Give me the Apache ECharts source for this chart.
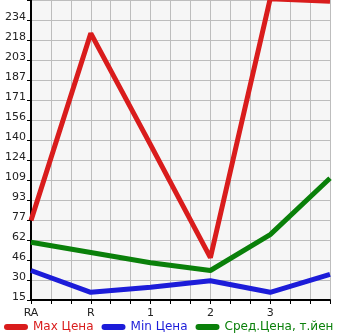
<!DOCTYPE html>
<html>
<head>
<meta charset="utf-8">
<script src="https://cdn.jsdelivr.net/npm/echarts@6/dist/echarts.min.js"></script>
<style>html,body{margin:0;padding:0;background:#fff}#c{width:345px;height:335px}</style>
</head>
<body>
<div id="c"></div>
<script>
const categories = ['RA', 'R', '1', '2', '3', ''];
const yTickLabels = ['15', '30', '46', '62', '77', '93', '109', '124', '140', '156', '171', '187', '203', '218', '234'];
const maxPrice = [77, 223, 136, 48, 250, 248];
const minPrice = [38, 21, 25, 30, 21, 35];
const avgPrice = [60, 52, 44, 38, 66, 110];
const seriesNames = ['Max Цена', 'Min Цена', 'Сред.Цена, т.йен'];
const colors = ['#d91c1c', '#1c1cd9', '#0a800a'];

const font = 'DejaVu Sans';
const chart = echarts.init(document.getElementById('c'), null, {renderer: 'canvas'});
const capsule = 'path://M3,0 L21,0 A3,3 0 0 1 21,6 L3,6 A3,3 0 0 1 3,0 Z';
chart.setOption({
  animation: false,
  grid: {left: 31, right: 15, top: 0, bottom: 35, show: true, backgroundColor: '#f6f6f6', borderWidth: 0},
  legend: {
    left: -1, bottom: -3, itemWidth: 24, itemHeight: 6, itemGap: 8,
    icon: capsule,
    textStyle: {fontFamily: font, fontSize: 12},
    data: seriesNames.map((n, i) => ({name: n, textStyle: {color: colors[i]}}))
  },
  xAxis: [
    {
      type: 'category', data: categories, boundaryGap: false,
      axisLine: {lineStyle: {color: '#000', width: 2}},
      axisTick: {show: false},
      splitLine: {show: false},
      axisLabel: {fontFamily: font, fontSize: 11, color: '#222', margin: 8, interval: 0}
    },
    {
      type: 'value', min: 0, max: 15, interval: 1, position: 'bottom',
      axisLine: {show: false},
      axisTick: {show: true, length: 4, lineStyle: {color: '#000', width: 1}},
      axisLabel: {show: false},
      splitLine: {show: true, lineStyle: {color: '#bdbdbd', width: 1}}
    }
  ],
  yAxis: [
    {
      type: 'value', min: 0, max: 15, interval: 1,
      axisLine: {show: true, lineStyle: {color: '#000', width: 2}},
      axisTick: {show: true, length: 4, lineStyle: {color: '#000', width: 1}},
      splitLine: {show: true, lineStyle: {color: '#bdbdbd', width: 1}},
      axisLabel: {
        fontFamily: font, fontSize: 11, color: '#222', margin: 5,
        verticalAlign: 'bottom', lineHeight: 6,
        formatter: v => (yTickLabels[v] !== undefined ? yTickLabels[v] : '')
      }
    },
    {type: 'value', min: 15, max: 249, show: false}
  ],
  series: [maxPrice, minPrice, avgPrice].map((d, i) => ({
    name: seriesNames[i], type: 'line', data: d, xAxisIndex: 0, yAxisIndex: 1,
    symbol: 'none', color: colors[i], clip: true,
    lineStyle: {width: 5, color: colors[i]}
  }))
});
</script>
</body>
</html>
